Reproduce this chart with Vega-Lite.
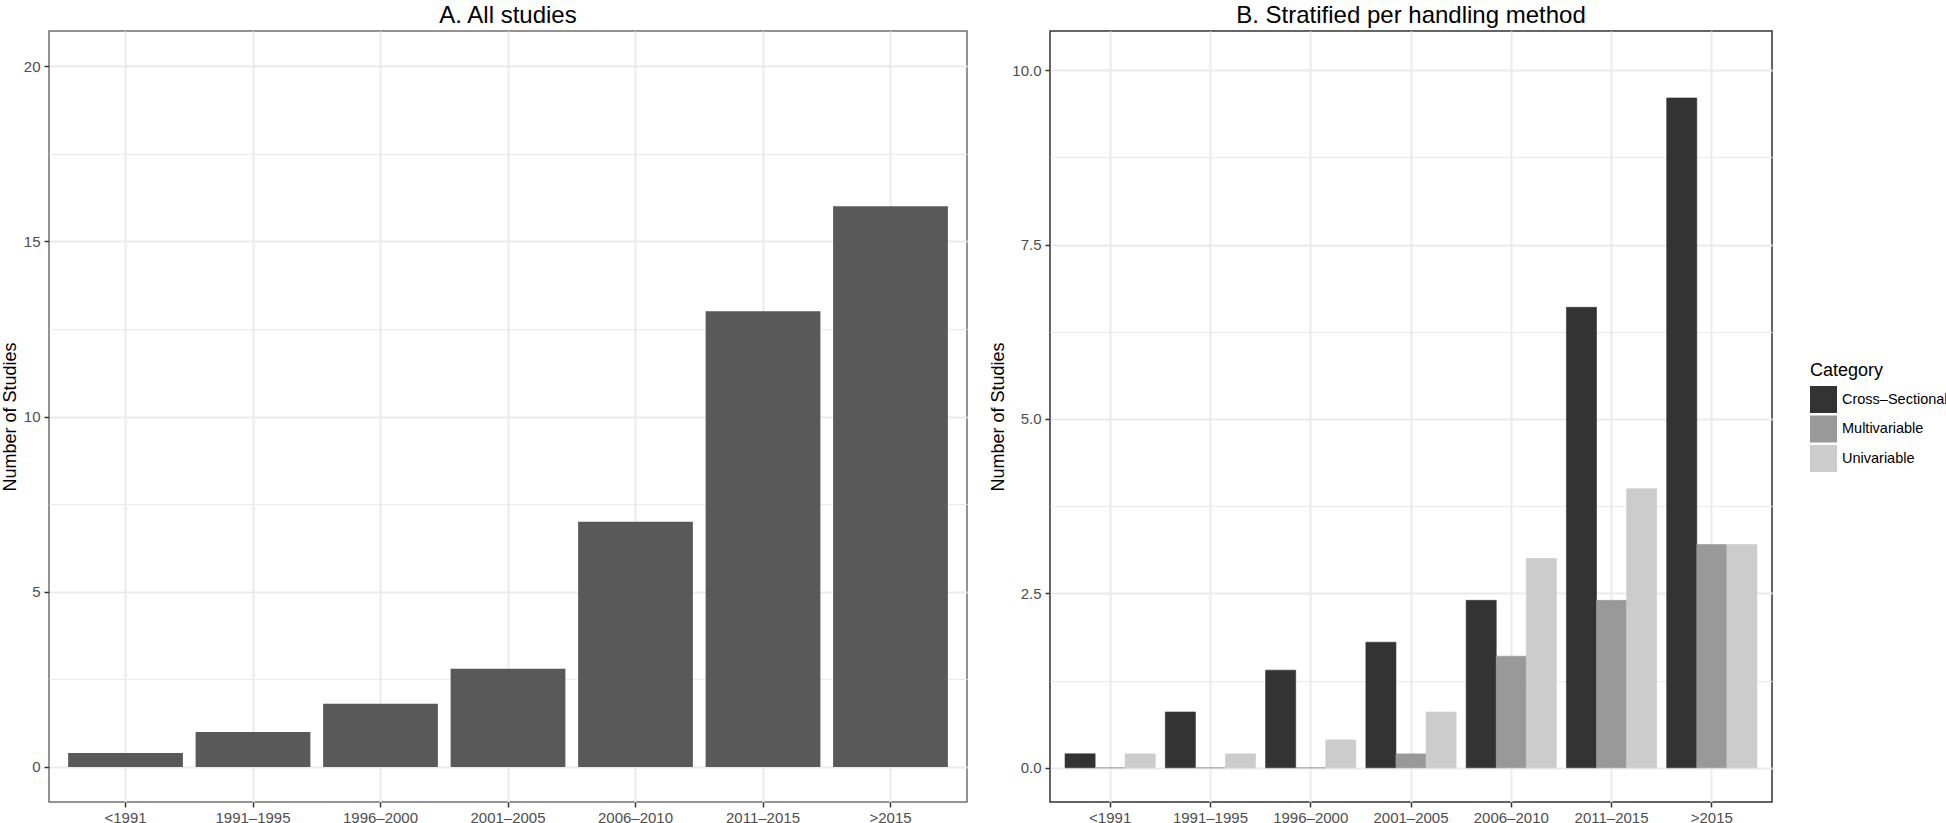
{
  "$schema": "https://vega.github.io/schema/vega-lite/v6.json",
  "padding": {"top": 3, "left": 0, "right": 0, "bottom": 0},
  "background": "white",
  "datasets": {
    "all": [
      {"period": "<1991", "count": 0.4},
      {"period": "1991–1995", "count": 1.0},
      {"period": "1996–2000", "count": 1.8},
      {"period": "2001–2005", "count": 2.8},
      {"period": "2006–2010", "count": 7.0},
      {"period": "2011–2015", "count": 13.0},
      {"period": ">2015", "count": 16.0}
    ],
    "strat": [
      {"period": "<1991", "category": "Cross–Sectional", "count": 0.2},
      {"period": "<1991", "category": "Multivariable", "count": 0},
      {"period": "<1991", "category": "Univariable", "count": 0.2},
      {"period": "1991–1995", "category": "Cross–Sectional", "count": 0.8},
      {"period": "1991–1995", "category": "Multivariable", "count": 0},
      {"period": "1991–1995", "category": "Univariable", "count": 0.2},
      {"period": "1996–2000", "category": "Cross–Sectional", "count": 1.4},
      {"period": "1996–2000", "category": "Multivariable", "count": 0},
      {"period": "1996–2000", "category": "Univariable", "count": 0.4},
      {"period": "2001–2005", "category": "Cross–Sectional", "count": 1.8},
      {"period": "2001–2005", "category": "Multivariable", "count": 0.2},
      {"period": "2001–2005", "category": "Univariable", "count": 0.8},
      {"period": "2006–2010", "category": "Cross–Sectional", "count": 2.4},
      {"period": "2006–2010", "category": "Multivariable", "count": 1.6},
      {"period": "2006–2010", "category": "Univariable", "count": 3.0},
      {"period": "2011–2015", "category": "Cross–Sectional", "count": 6.6},
      {"period": "2011–2015", "category": "Multivariable", "count": 2.4},
      {"period": "2011–2015", "category": "Univariable", "count": 4.0},
      {"period": ">2015", "category": "Cross–Sectional", "count": 9.6},
      {"period": ">2015", "category": "Multivariable", "count": 3.2},
      {"period": ">2015", "category": "Univariable", "count": 3.2}
    ]
  },
  "config": {
    "font": "Liberation Sans",
    "view": {"stroke": "#333333", "strokeWidth": 1.5},
    "title": {"fontSize": 24, "fontWeight": "normal", "color": "#000000", "frame": "group", "anchor": "middle", "offset": 3},
    "axis": {
      "labelFontSize": 15,
      "labelColor": "#4D4D4D",
      "titleFontSize": 18,
      "titleFontWeight": "normal",
      "titleColor": "#000000",
      "tickColor": "#333333",
      "tickSize": 5,
      "tickWidth": 1.5,
      "domain": false,
      "gridColor": "#EBEBEB",
      "gridWidth": 2,
      "labelPadding": 4,
      "labelOverlap": false
    },
    "legend": {
      "titleFontSize": 18,
      "titleFontWeight": "normal",
      "titleColor": "#000000",
      "labelFontSize": 14.5,
      "labelColor": "#000000",
      "symbolType": "square",
      "symbolSize": 729,
      "symbolStrokeWidth": 0,
      "rowPadding": 2.5,
      "labelOffset": 5,
      "titlePadding": 6,
      "offset": 37,
      "padding": 0,
      "layout": {"right": {"anchor": "middle"}}
    }
  },
  "spacing": 21,
  "hconcat": [
    {
      "width": 918,
      "height": 771,
      "title": {"text": "A. All studies"},
      "data": {"name": "all"},
      "view": {"stroke": "#707070"},
      "mark": {"type": "bar", "color": "#595959"},
      "encoding": {
        "x": {
          "field": "period",
          "type": "nominal",
          "sort": ["<1991", "1991–1995", "1996–2000", "2001–2005", "2006–2010", "2011–2015", ">2015"],
          "scale": {"paddingInner": 0.1, "paddingOuter": 0.15},
          "axis": {"title": null, "bandPosition": 0.5, "grid": true, "labelAngle": 0, "labelPadding": 3}
        },
        "y": {
          "field": "count",
          "type": "quantitative",
          "scale": {"domain": [-1, 21], "nice": false, "zero": false},
          "axis": {
            "title": "Number of Studies",
            "titlePadding": 4,
            "values": [0, 2.5, 5, 7.5, 10, 12.5, 15, 17.5, 20],
            "labelExpr": "datum.value % 5 === 0 ? format(datum.value, 'd') : ''",
            "grid": true,
            "gridWidth": {"condition": {"test": "datum.value % 5 !== 0", "value": 1}, "value": 2},
            "tickOpacity": {"condition": {"test": "datum.value % 5 !== 0", "value": 0}, "value": 1}
          }
        }
      }
    },
    {
      "width": 722,
      "height": 771,
      "title": {"text": "B. Stratified per handling method"},
      "data": {"name": "strat"},
      "mark": {"type": "bar", "strokeWidth": 0.6},
      "encoding": {
        "x": {
          "field": "period",
          "type": "nominal",
          "sort": ["<1991", "1991–1995", "1996–2000", "2001–2005", "2006–2010", "2011–2015", ">2015"],
          "scale": {"paddingInner": 0.1, "paddingOuter": 0.15},
          "axis": {"title": null, "bandPosition": 0.5, "grid": true, "labelAngle": 0, "labelPadding": 3}
        },
        "xOffset": {
          "field": "category",
          "type": "nominal",
          "sort": ["Cross–Sectional", "Multivariable", "Univariable"],
          "scale": {"paddingInner": 0, "paddingOuter": 0}
        },
        "y": {
          "field": "count",
          "type": "quantitative",
          "scale": {"domain": [-0.49, 10.56], "nice": false, "zero": false},
          "axis": {
            "title": "Number of Studies",
            "titlePadding": 4,
            "values": [0, 1.25, 2.5, 3.75, 5, 6.25, 7.5, 8.75, 10],
            "labelExpr": "datum.value % 2.5 === 0 ? format(datum.value, '.1f') : ''",
            "grid": true,
            "gridWidth": {"condition": {"test": "datum.value % 2.5 !== 0", "value": 1}, "value": 2},
            "tickOpacity": {"condition": {"test": "datum.value % 2.5 !== 0", "value": 0}, "value": 1}
          }
        },
        "color": {
          "field": "category",
          "type": "nominal",
          "scale": {"domain": ["Cross–Sectional", "Multivariable", "Univariable"], "range": ["#333333", "#999999", "#CCCCCC"]},
          "legend": {"title": "Category"}
        },
        "stroke": {
          "field": "category",
          "type": "nominal",
          "scale": {"domain": ["Cross–Sectional", "Multivariable", "Univariable"], "range": ["#333333", "#999999", "#CCCCCC"]},
          "legend": null
        }
      }
    }
  ]
}
